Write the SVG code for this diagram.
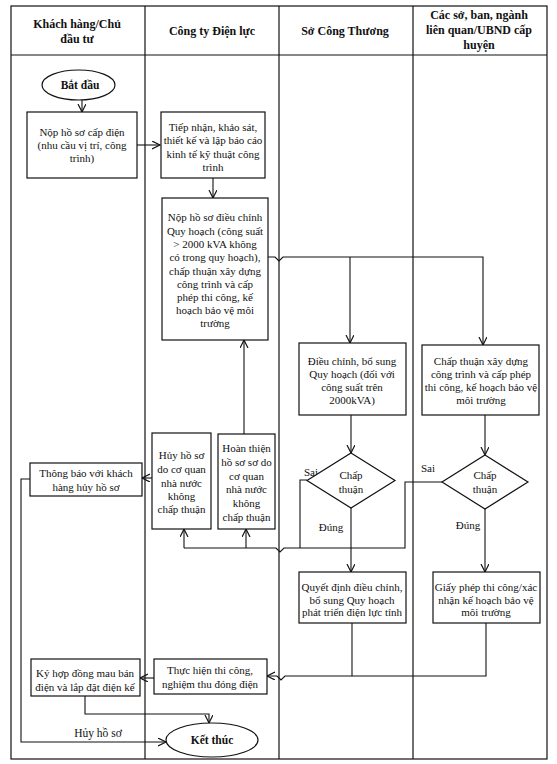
<svg xmlns="http://www.w3.org/2000/svg" width="557" height="764" viewBox="0 0 557 764">
<defs>
<marker id="arr" markerUnits="userSpaceOnUse" markerWidth="10" markerHeight="10" refX="8" refY="4" orient="auto">
<path d="M0,0 L8,4 L0,8" fill="none" stroke="#111" stroke-width="1.2"/>
</marker>
</defs>
<style>
text{font-family:"Liberation Serif","Times New Roman",serif;font-size:11px;fill:#111;text-anchor:middle}
.h{font-size:12px;font-weight:bold}
.b{font-weight:bold;font-size:11.5px}
.l{text-anchor:start}
.box{fill:#fff;stroke:#111;stroke-width:1.2}
.grid{fill:none;stroke:#111;stroke-width:1.2}
.c{fill:none;stroke:#111;stroke-width:1.1}
.ca{fill:none;stroke:#111;stroke-width:1.1;marker-end:url(#arr)}
</style>
<rect width="557" height="764" fill="#fff"/>
<g id="table">
<rect class="grid" x="11" y="6" width="536" height="753"/>
<line class="grid" x1="11" y1="55" x2="547" y2="55"/>
<line class="grid" x1="145" y1="6" x2="145" y2="759"/>
<line class="grid" x1="279" y1="6" x2="279" y2="759"/>
<line class="grid" x1="413" y1="6" x2="413" y2="759"/>
<text class="h" x="77" y="28">Khách hàng/Chủ</text>
<text class="h" x="77" y="43">đầu tư</text>
<text class="h" x="212" y="35">Công ty Điện lực</text>
<text class="h" x="345" y="35">Sở Công Thương</text>
<text class="h" x="479" y="19">Các sở, ban, ngành</text>
<text class="h" x="479" y="34">liên quan/UBND cấp</text>
<text class="h" x="479" y="49">huyện</text>
</g>
<g id="connectors">
<path class="ca" d="M82,100 V112"/>
<path class="ca" d="M137,145 H160"/>
<path class="ca" d="M213,178 V198"/>
<path class="ca" d="M268,257 H275 L279,261 L283,257 H483 V345"/>
<path class="ca" d="M350,257 V343"/>
<path class="ca" d="M351,415 V453"/>
<path class="ca" d="M485,415 V455"/>
<path class="ca" d="M351,508 V572"/>
<path class="ca" d="M485,509 V572"/>
<path class="c" d="M307,480 H300 V548"/>
<path class="c" d="M442,482 H405 V548 H284 L280,552 L276,548 H184"/>
<path class="ca" d="M184,548 V529"/>
<path class="ca" d="M246,548 V529"/>
<path class="ca" d="M244,434 V340"/>
<path class="ca" d="M152,478 H142"/>
<path class="ca" d="M30,479 H21 V742 H166"/>
<path class="c" d="M352,623 V676"/>
<path class="ca" d="M486,623 V676 H285 L281,680 L277,676 H267"/>
<path class="ca" d="M154,678 H140"/>
<path class="ca" d="M85,696 V714 H209 V723"/>
<text x="311" y="476">Sai</text>
<text x="428" y="472">Sai</text>
<text x="331" y="531">Đúng</text>
<text x="468" y="529">Đúng</text>
<text x="98" y="737" style="font-size:11.5px">Hủy hồ sơ</text>
</g>
<g id="start">
<ellipse class="box" cx="78.5" cy="85" rx="36.5" ry="15"/>
<text class="b" x="80" y="89">Bắt đầu</text>
</g>
<g id="nop-ho-so">
<rect class="box" x="27" y="112" width="110" height="66"/>
<text x="82" y="136">Nộp hồ sơ cấp điện</text>
<text x="82" y="149">(nhu cầu vị trí, công</text>
<text x="82" y="162">trình)</text>
</g>
<g id="tiep-nhan">
<rect class="box" x="161" y="112" width="104" height="66"/>
<text x="213" y="131">Tiếp nhận, khảo sát,</text>
<text x="213" y="144">thiết kế và lập báo cáo</text>
<text x="213" y="157.5">kinh tế kỹ thuật công</text>
<text x="213" y="171">trình</text>
</g>
<g id="nop-dieu-chinh">
<rect class="box" x="162" y="198" width="106" height="142"/>
<text x="215" y="221">Nộp hồ sơ điều chỉnh</text>
<text x="215" y="235">Quy hoạch (công suất</text>
<text x="215" y="248">&gt; 2000 kVA không</text>
<text x="215" y="261">có trong quy hoạch),</text>
<text x="215" y="275">chấp thuận xây dựng</text>
<text x="215" y="288">công trình và cấp</text>
<text x="215" y="301">phép thi công, kế</text>
<text x="215" y="314">hoạch bảo vệ môi</text>
<text x="215" y="327">trường</text>
</g>
<g id="dieu-chinh">
<rect class="box" x="299" y="343" width="107" height="72"/>
<text x="352" y="365">Điều chỉnh, bổ sung</text>
<text x="352" y="378">Quy hoạch (đối với</text>
<text x="352" y="391">công suất trên</text>
<text x="352" y="404">2000kVA)</text>
</g>
<g id="chap-thuan-xd">
<rect class="box" x="422" y="345" width="117" height="70"/>
<text x="481" y="365">Chấp thuận xây dựng</text>
<text x="481" y="378">công trình và cấp phép</text>
<text x="481" y="391">thi công, kế hoạch bảo vệ</text>
<text x="481" y="404">môi trường</text>
</g>
<g id="decision-1">
<polygon class="box" points="351,453 395,480.5 351,508 307,480.5"/>
<text x="351" y="479">Chấp</text>
<text x="351" y="493">thuận</text>
</g>
<g id="decision-2">
<polygon class="box" points="485,455 528,482 485,509 442,482"/>
<text x="485" y="479">Chấp</text>
<text x="485" y="493">thuận</text>
</g>
<g id="huy-ho-so">
<rect class="box" x="152" y="433" width="59" height="96"/>
<text x="181.5" y="459">Hủy hồ sơ</text>
<text x="181.5" y="473">do cơ quan</text>
<text x="181.5" y="487">nhà nước</text>
<text x="181.5" y="500">không</text>
<text x="181.5" y="513">chấp thuận</text>
</g>
<g id="hoan-thien">
<rect class="box" x="218" y="434" width="57" height="95"/>
<text x="246.5" y="452">Hoàn thiện</text>
<text x="246.5" y="466">hồ sơ sơ do</text>
<text x="246.5" y="480">cơ quan</text>
<text x="246.5" y="493">nhà nước</text>
<text x="246.5" y="507">không</text>
<text x="246.5" y="521">chấp thuận</text>
</g>
<g id="thong-bao">
<rect class="box" x="30" y="463" width="112" height="33"/>
<text x="86" y="477">Thông báo với khách</text>
<text x="86" y="491">hàng hủy hồ sơ</text>
</g>
<g id="quyet-dinh">
<rect class="box" x="299" y="572" width="107" height="51"/>
<text x="352" y="591">Quyết định điều chỉnh,</text>
<text x="352" y="603.5">bổ sung Quy hoạch</text>
<text x="352" y="616">phát triển điện lực tỉnh</text>
</g>
<g id="giay-phep">
<rect class="box" x="433" y="572" width="107" height="51"/>
<text x="486" y="591">Giấy phép thi công/xác</text>
<text x="486" y="603.5">nhận kế hoạch bảo vệ</text>
<text x="486" y="616">môi trường</text>
</g>
<g id="thuc-hien">
<rect class="box" x="154" y="659" width="113" height="35"/>
<text x="210" y="674">Thực hiện thi công,</text>
<text x="210" y="688">nghiệm thu đóng điện</text>
</g>
<g id="ky-hop-dong">
<rect class="box" x="31" y="659" width="109" height="37"/>
<text x="85" y="677">Ký hợp đồng mau bán</text>
<text x="85" y="691">điện và lắp đặt điện kế</text>
</g>
<g id="end">
<ellipse class="box" cx="212" cy="740" rx="46" ry="17"/>
<text class="b" x="212" y="744">Kết thúc</text>
</g>
</svg>
